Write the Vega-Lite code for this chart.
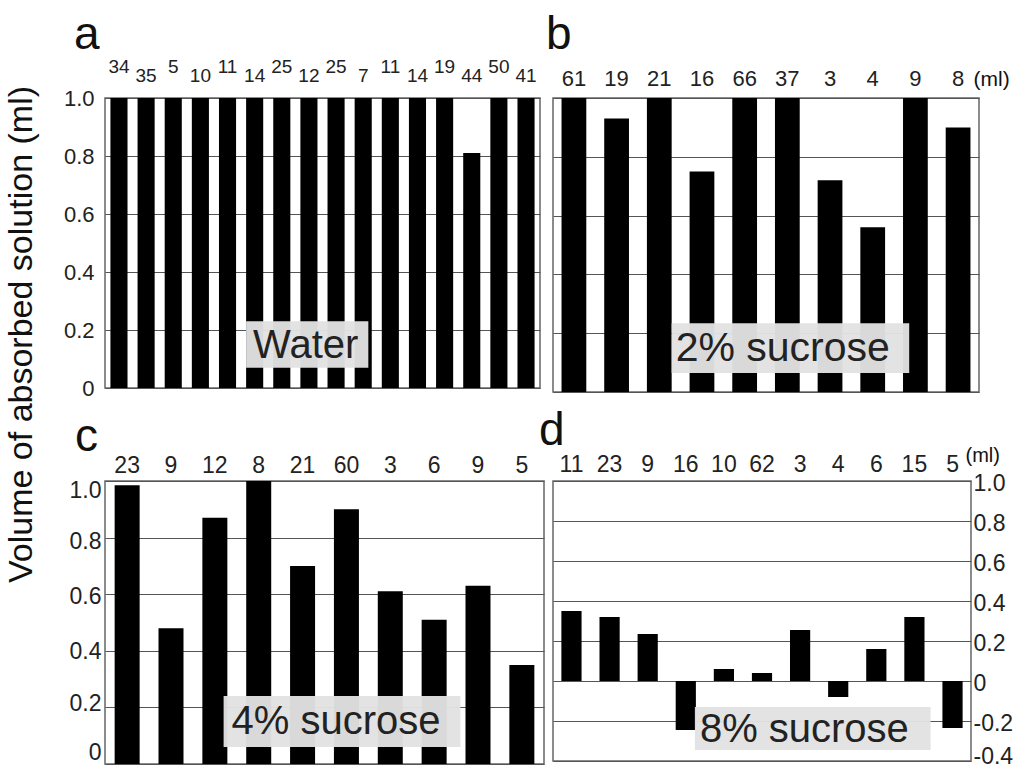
{
  "$schema": "https://vega.github.io/schema/vega-lite/v6.json",
  "background": "white",
  "padding": {"left": 3, "top": 11, "right": 0, "bottom": 0},
  "bounds": "flush",
  "columns": 2,
  "spacing": {"row": 89, "column": 9},
  "config": {
    "font": "Liberation Sans",
    "view": {"stroke": "#666", "strokeWidth": 1.5},
    "axis": {"labelFont": "Liberation Sans", "titleFont": "Liberation Sans", "labelColor": "#222", "titleColor": "#111", "domain": false, "ticks": false, "tickSize": 0, "gridColor": "#555", "gridWidth": 1, "gridOpacity": 1, "labelFontSize": 22, "titleFontWeight": "normal", "labelOverlap": false},
    "title": {"font": "Liberation Sans", "fontSize": 46, "fontWeight": "normal", "anchor": "start", "frame": "group", "baseline": "alphabetic", "color": "#111", "offset": 8},
    "text": {"font": "Liberation Sans"}
  },
  "datasets": {
    "a": [
      {"bar": "01|34", "v": 1.0}, {"bar": "02|35", "v": 1.0}, {"bar": "03|5", "v": 1.0}, {"bar": "04|10", "v": 1.0},
      {"bar": "05|11", "v": 1.0}, {"bar": "06|14", "v": 1.0}, {"bar": "07|25", "v": 1.0}, {"bar": "08|12", "v": 1.0},
      {"bar": "09|25", "v": 1.0}, {"bar": "10|7", "v": 1.0}, {"bar": "11|11", "v": 1.0}, {"bar": "12|14", "v": 1.0},
      {"bar": "13|19", "v": 1.0}, {"bar": "14|44", "v": 0.81}, {"bar": "15|50", "v": 1.0}, {"bar": "16|41", "v": 1.0}
    ],
    "b": [
      {"bar": "01|61", "v": 1.0}, {"bar": "02|19", "v": 0.93}, {"bar": "03|21", "v": 1.0}, {"bar": "04|16", "v": 0.75},
      {"bar": "05|66", "v": 1.0}, {"bar": "06|37", "v": 1.0}, {"bar": "07|3", "v": 0.72}, {"bar": "08|4", "v": 0.56},
      {"bar": "09|9", "v": 1.0}, {"bar": "10|8", "v": 0.90}
    ],
    "c": [
      {"bar": "01|23", "v": 0.985}, {"bar": "02|9", "v": 0.48}, {"bar": "03|12", "v": 0.87}, {"bar": "04|8", "v": 1.0},
      {"bar": "05|21", "v": 0.70}, {"bar": "06|60", "v": 0.90}, {"bar": "07|3", "v": 0.61}, {"bar": "08|6", "v": 0.51},
      {"bar": "09|9", "v": 0.63}, {"bar": "10|5", "v": 0.35}
    ],
    "d": [
      {"bar": "01|11", "v": 0.35}, {"bar": "02|23", "v": 0.32}, {"bar": "03|9", "v": 0.235}, {"bar": "04|16", "v": -0.245},
      {"bar": "05|10", "v": 0.06}, {"bar": "06|62", "v": 0.04}, {"bar": "07|3", "v": 0.255}, {"bar": "08|4", "v": -0.08},
      {"bar": "09|6", "v": 0.16}, {"bar": "10|15", "v": 0.32}, {"bar": "11|5", "v": -0.235}
    ],
    "la": [{"bar": "06|14", "bar2": "10|7", "y0": 0.07, "y1": 0.23, "ym": 0.145, "label": "Water"}],
    "lb": [{"bar": "03|21", "bar2": "09|9", "y0": 0.065, "y1": 0.234, "ym": 0.146, "label": "2% sucrose"}],
    "lc": [{"bar": "03|12", "bar2": "08|6", "y0": 0.06, "y1": 0.24, "ym": 0.15, "label": "4% sucrose"}],
    "ld": [{"bar": "04|16", "bar2": "10|15", "y0": -0.345, "y1": -0.13, "ym": -0.245, "label": "8% sucrose"}]
  },
  "concat": [
    {
      "title": {"text": "a", "dx": -31, "offset": -2},
      "width": 435,
      "height": 290,
      "layer": [
        {
          "data": {"name": "a"},
          "mark": {"type": "bar", "color": "black"},
          "encoding": {
            "x": {"field": "bar", "type": "nominal", "scale": {"paddingInner": 0.37, "paddingOuter": 0.2},
              "axis": {"orient": "top", "title": null, "labelAngle": 0, "labelFontSize": 19, "labelBaseline": "alphabetic",
                "labelExpr": "split(datum.label, '|')[1]",
                "labelPadding": {"condition": {"test": "toNumber(slice(datum.value, 0, 2)) % 2 == 0", "value": 17}, "value": 26}}},
            "y": {"field": "v", "type": "quantitative", "scale": {"domain": [0, 1]},
              "axis": {"values": [0, 0.2, 0.4, 0.6, 0.8, 1.0], "grid": true, "labelPadding": 11,
                "labelExpr": "datum.value == 0 ? '0' : format(datum.value, '.1f')",
                "title": "Volume of absorbed solution (ml)", "titleFontSize": 34, "titleAngle": -90,
                "titleX": -74, "titleY": 236, "titleAlign": "center", "titleBaseline": "alphabetic"}}
          }
        },
        {
          "data": {"name": "la"},
          "mark": {"type": "rect", "color": "#e2e2e2", "opacity": 0.96},
          "encoding": {
            "x": {"field": "bar", "type": "nominal", "bandPosition": 0},
            "x2": {"field": "bar2", "bandPosition": 0.8},
            "y": {"field": "y0", "type": "quantitative"},
            "y2": {"field": "y1"}
          }
        },
        {
          "data": {"name": "la"},
          "mark": {"type": "text", "fontSize": 40, "align": "left", "baseline": "middle", "dx": 7, "color": "#222"},
          "encoding": {
            "x": {"field": "bar", "type": "nominal", "bandPosition": 0},
            "y": {"field": "ym", "type": "quantitative"},
            "text": {"field": "label"}
          }
        }
      ]
    },
    {
      "title": {"text": "b", "dx": -7, "offset": 8},
      "width": 426,
      "height": 294,
      "layer": [
        {
          "data": {"name": "b"},
          "mark": {"type": "bar", "color": "black"},
          "encoding": {
            "x": {"field": "bar", "type": "nominal", "scale": {"paddingInner": 0.42, "paddingOuter": 0.2},
              "axis": {"orient": "top", "labelAngle": 0, "labelFontSize": 22, "labelBaseline": "alphabetic", "labelPadding": 13,
                "labelExpr": "split(datum.label, '|')[1]",
                "title": "(ml)", "titleFontSize": 21, "titleAngle": 0, "titleX": 420, "titleY": -13, "titleAlign": "left", "titleBaseline": "alphabetic"}},
            "y": {"field": "v", "type": "quantitative", "scale": {"domain": [0, 1]},
              "axis": {"values": [0, 0.2, 0.4, 0.6, 0.8, 1.0], "grid": true, "labels": false, "title": null}}
          }
        },
        {
          "data": {"name": "lb"},
          "mark": {"type": "rect", "color": "#e2e2e2", "opacity": 0.96},
          "encoding": {
            "x": {"field": "bar", "type": "nominal", "bandPosition": 1},
            "x2": {"field": "bar2", "bandPosition": 0.25},
            "y": {"field": "y0", "type": "quantitative"},
            "y2": {"field": "y1"}
          }
        },
        {
          "data": {"name": "lb"},
          "mark": {"type": "text", "fontSize": 41, "align": "left", "baseline": "middle", "dx": 4, "color": "#222"},
          "encoding": {
            "x": {"field": "bar", "type": "nominal", "bandPosition": 1},
            "y": {"field": "ym", "type": "quantitative"},
            "text": {"field": "label"}
          }
        }
      ]
    },
    {
      "title": {"text": "c", "dx": -30, "offset": -7},
      "width": 439,
      "height": 283,
      "layer": [
        {
          "data": {"name": "c"},
          "mark": {"type": "bar", "color": "black"},
          "encoding": {
            "x": {"field": "bar", "type": "nominal", "scale": {"paddingInner": 0.43, "paddingOuter": 0.22},
              "axis": {"orient": "top", "title": null, "labelAngle": 0, "labelFontSize": 23, "labelBaseline": "alphabetic", "labelPadding": 9,
                "labelExpr": "split(datum.label, '|')[1]"}},
            "y": {"field": "v", "type": "quantitative", "scale": {"domain": [0, 1]},
              "axis": {"values": [0, 0.1, 0.2, 0.3, 0.4, 0.5, 0.6, 0.7, 0.8, 0.9, 1.0], "grid": true, "labelPadding": 4, "labelFontSize": 23,
                "labelExpr": "round(datum.value * 10) % 2 == 1 ? '' : (datum.value == 0 ? '0' : format(datum.value, '.1f'))",
                "labelOffset": {"condition": [
                  {"test": "datum.value < 0.05", "value": -12},
                  {"test": "datum.value < 0.25", "value": -4},
                  {"test": "datum.value < 0.45", "value": 1},
                  {"test": "datum.value < 0.65", "value": 2},
                  {"test": "datum.value < 0.85", "value": 4}], "value": 9},
                "title": null}}
          }
        },
        {
          "data": {"name": "lc"},
          "mark": {"type": "rect", "color": "#e2e2e2", "opacity": 0.96},
          "encoding": {
            "x": {"field": "bar", "type": "nominal", "bandPosition": 0.85},
            "x2": {"field": "bar2", "bandPosition": 1.55},
            "y": {"field": "y0", "type": "quantitative"},
            "y2": {"field": "y1"}
          }
        },
        {
          "data": {"name": "lc"},
          "mark": {"type": "text", "fontSize": 40, "align": "left", "baseline": "middle", "dx": 8, "color": "#222"},
          "encoding": {
            "x": {"field": "bar", "type": "nominal", "bandPosition": 0.85},
            "y": {"field": "ym", "type": "quantitative"},
            "text": {"field": "label"}
          }
        }
      ]
    },
    {
      "title": {"text": "d", "dx": -14, "offset": -10},
      "width": 418,
      "height": 280,
      "layer": [
        {
          "data": {"name": "d"},
          "mark": {"type": "bar", "color": "black"},
          "encoding": {
            "x": {"field": "bar", "type": "nominal", "scale": {"paddingInner": 0.47, "paddingOuter": 0.22},
              "axis": {"orient": "top", "labelAngle": 0, "labelFontSize": 23, "labelBaseline": "alphabetic", "labelPadding": 10,
                "labelExpr": "split(datum.label, '|')[1]",
                "title": "(ml)", "titleFontSize": 20, "titleAngle": 0, "titleX": 412, "titleY": -20, "titleAlign": "left", "titleBaseline": "alphabetic"}},
            "y": {"field": "v", "type": "quantitative", "scale": {"domain": [-0.4, 1]},
              "axis": {"orient": "right", "values": [-0.4, -0.2, 0, 0.2, 0.4, 0.6, 0.8, 1.0], "grid": true, "labelPadding": 2, "labelFontSize": 23,
                "labelExpr": "datum.value == 0 ? '0' : replace(format(datum.value, '.1f'), '\u2212', '-')",
                "labelOffset": {"condition": {"test": "datum.value < -0.3", "value": -5}, "value": 2},
                "title": null}}
          }
        },
        {
          "data": {"name": "ld"},
          "mark": {"type": "rect", "color": "#e2e2e2", "opacity": 0.96},
          "encoding": {
            "x": {"field": "bar", "type": "nominal", "bandPosition": 0.95},
            "x2": {"field": "bar2", "bandPosition": 1.3},
            "y": {"field": "y0", "type": "quantitative",
              "axis": {"orient": "right", "values": [-0.4, -0.2, 0, 0.2, 0.4, 0.6, 0.8, 1.0], "grid": true, "labelPadding": 2, "labelFontSize": 23,
                "labelExpr": "datum.value == 0 ? '0' : replace(format(datum.value, '.1f'), '\u2212', '-')",
                "labelOffset": {"condition": {"test": "datum.value < -0.3", "value": -5}, "value": 2},
                "title": null}},
            "y2": {"field": "y1"}
          }
        },
        {
          "data": {"name": "ld"},
          "mark": {"type": "text", "fontSize": 40, "align": "left", "baseline": "middle", "dx": 5, "color": "#222"},
          "encoding": {
            "x": {"field": "bar", "type": "nominal", "bandPosition": 0.95},
            "y": {"field": "ym", "type": "quantitative",
              "axis": {"orient": "right", "values": [-0.4, -0.2, 0, 0.2, 0.4, 0.6, 0.8, 1.0], "grid": true, "labelPadding": 2, "labelFontSize": 23,
                "labelExpr": "datum.value == 0 ? '0' : replace(format(datum.value, '.1f'), '\u2212', '-')",
                "labelOffset": {"condition": {"test": "datum.value < -0.3", "value": -5}, "value": 2},
                "title": null}},
            "text": {"field": "label"}
          }
        }
      ]
    }
  ]
}
